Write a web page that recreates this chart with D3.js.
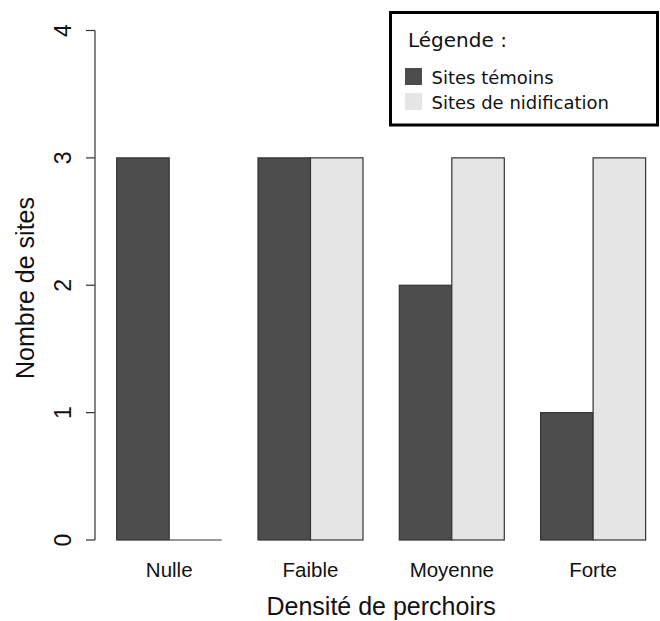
<!DOCTYPE html>
<html>
<head>
<meta charset="utf-8">
<script src="https://cdn.jsdelivr.net/npm/d3@7"></script>
<style>
  body { margin: 0; background: #fff; }
  svg { display: block; }
  .tick-lab { font-family: "Liberation Sans", Arial, sans-serif; font-size: 20.5px; fill: #111; }
  .axis-title { font-family: "Liberation Sans", Arial, sans-serif; font-size: 25px; fill: #111; }
  .leg { font-family: "DejaVu Sans", sans-serif; fill: #111; }
</style>
</head>
<body>
<div id="chart"></div>
<script>
// data
const categories = ["Nulle", "Faible", "Moyenne", "Forte"];
const temoins = [3, 3, 2, 1];
const nidification = [0, 3, 3, 3];
const yTicks = [0, 1, 2, 3, 4];
const seriesNames = ["Sites témoins", "Sites de nidification"];
const seriesColors = ["#4d4d4d", "#e5e5e5"];

const width = 660, height = 621;

const svg = d3.select("#chart").append("svg")
  .attr("width", width)
  .attr("height", height);

const x = d3.scaleBand()
  .domain(categories)
  .range([116.7, 645.6])
  .paddingInner(0.257)
  .paddingOuter(0);

const xSub = d3.scaleBand()
  .domain([0, 1])
  .range([0, x.bandwidth()]);

const y = d3.scaleLinear()
  .domain([0, 4])
  .range([540, 30.5]);

const rows = categories.map((c, i) => ({ cat: c, vals: [temoins[i], nidification[i]] }));

// bars
const groups = svg.append("g").selectAll("g")
  .data(rows)
  .join("g")
  .attr("transform", d => `translate(${x(d.cat)},0)`);

groups.selectAll("rect")
  .data(d => d.vals.map((v, k) => ({ v, k })))
  .join("rect")
  .attr("x", d => xSub(d.k))
  .attr("y", d => y(d.v))
  .attr("width", xSub.bandwidth())
  .attr("height", d => y(0) - y(d.v))
  .attr("fill", d => seriesColors[d.k])
  .attr("stroke", "#333")
  .attr("stroke-width", 1.2);

// zero-height bars still get their baseline drawn
groups.filter(d => d.vals[1] === 0)
  .append("line")
  .attr("x1", xSub(1)).attr("x2", xSub(1) + xSub.bandwidth())
  .attr("y1", y(0)).attr("y2", y(0))
  .attr("stroke", "#333").attr("stroke-width", 1.2);

// y axis, R style
const axisX = 95;
const yAxis = svg.append("g");
yAxis.append("line")
  .attr("x1", axisX).attr("x2", axisX)
  .attr("y1", y(0)).attr("y2", y(4))
  .attr("stroke", "#333").attr("stroke-width", 1.2);
yAxis.selectAll("line.tk")
  .data(yTicks)
  .join("line")
  .attr("class", "tk")
  .attr("x1", axisX - 9).attr("x2", axisX)
  .attr("y1", d => y(d)).attr("y2", d => y(d))
  .attr("stroke", "#333").attr("stroke-width", 1.2);
yAxis.selectAll("text")
  .data(yTicks)
  .join("text")
  .attr("class", "tick-lab")
  .style("font-size", "23px")
  .attr("text-anchor", "middle")
  .attr("transform", d => `translate(71,${y(d)}) rotate(-90)`)
  .text(d => d);

// x labels
svg.append("g").selectAll("text")
  .data(categories)
  .join("text")
  .attr("class", "tick-lab")
  .attr("text-anchor", "middle")
  .attr("x", d => x(d) + x.bandwidth() / 2)
  .attr("y", 576.5)
  .text(d => d);

// axis titles
svg.append("text")
  .attr("class", "axis-title")
  .attr("text-anchor", "middle")
  .attr("x", (x.range()[0] + x.range()[1]) / 2)
  .attr("y", 615)
  .text("Densité de perchoirs");

svg.append("text")
  .attr("class", "axis-title")
  .attr("text-anchor", "middle")
  .attr("transform", `translate(34,288) rotate(-90)`)
  .text("Nombre de sites");

// legend
const leg = svg.append("g");
leg.append("rect")
  .attr("x", 390.5).attr("y", 12.5)
  .attr("width", 267).attr("height", 112.5)
  .attr("fill", "#fff")
  .attr("stroke", "#000")
  .attr("stroke-width", 3);
leg.append("text")
  .attr("class", "leg")
  .attr("x", 408).attr("y", 47)
  .style("font-size", "20px")
  .text("Légende :");
seriesNames.forEach((name, k) => {
  leg.append("rect")
    .attr("x", 405).attr("y", 68 + k * 25)
    .attr("width", 17).attr("height", 17)
    .attr("fill", seriesColors[k]);
  leg.append("text")
    .attr("class", "leg")
    .attr("x", 431.5).attr("y", 84 + k * 24.5)
    .style("font-size", "18px")
    .text(name);
});
</script>
</body>
</html>
